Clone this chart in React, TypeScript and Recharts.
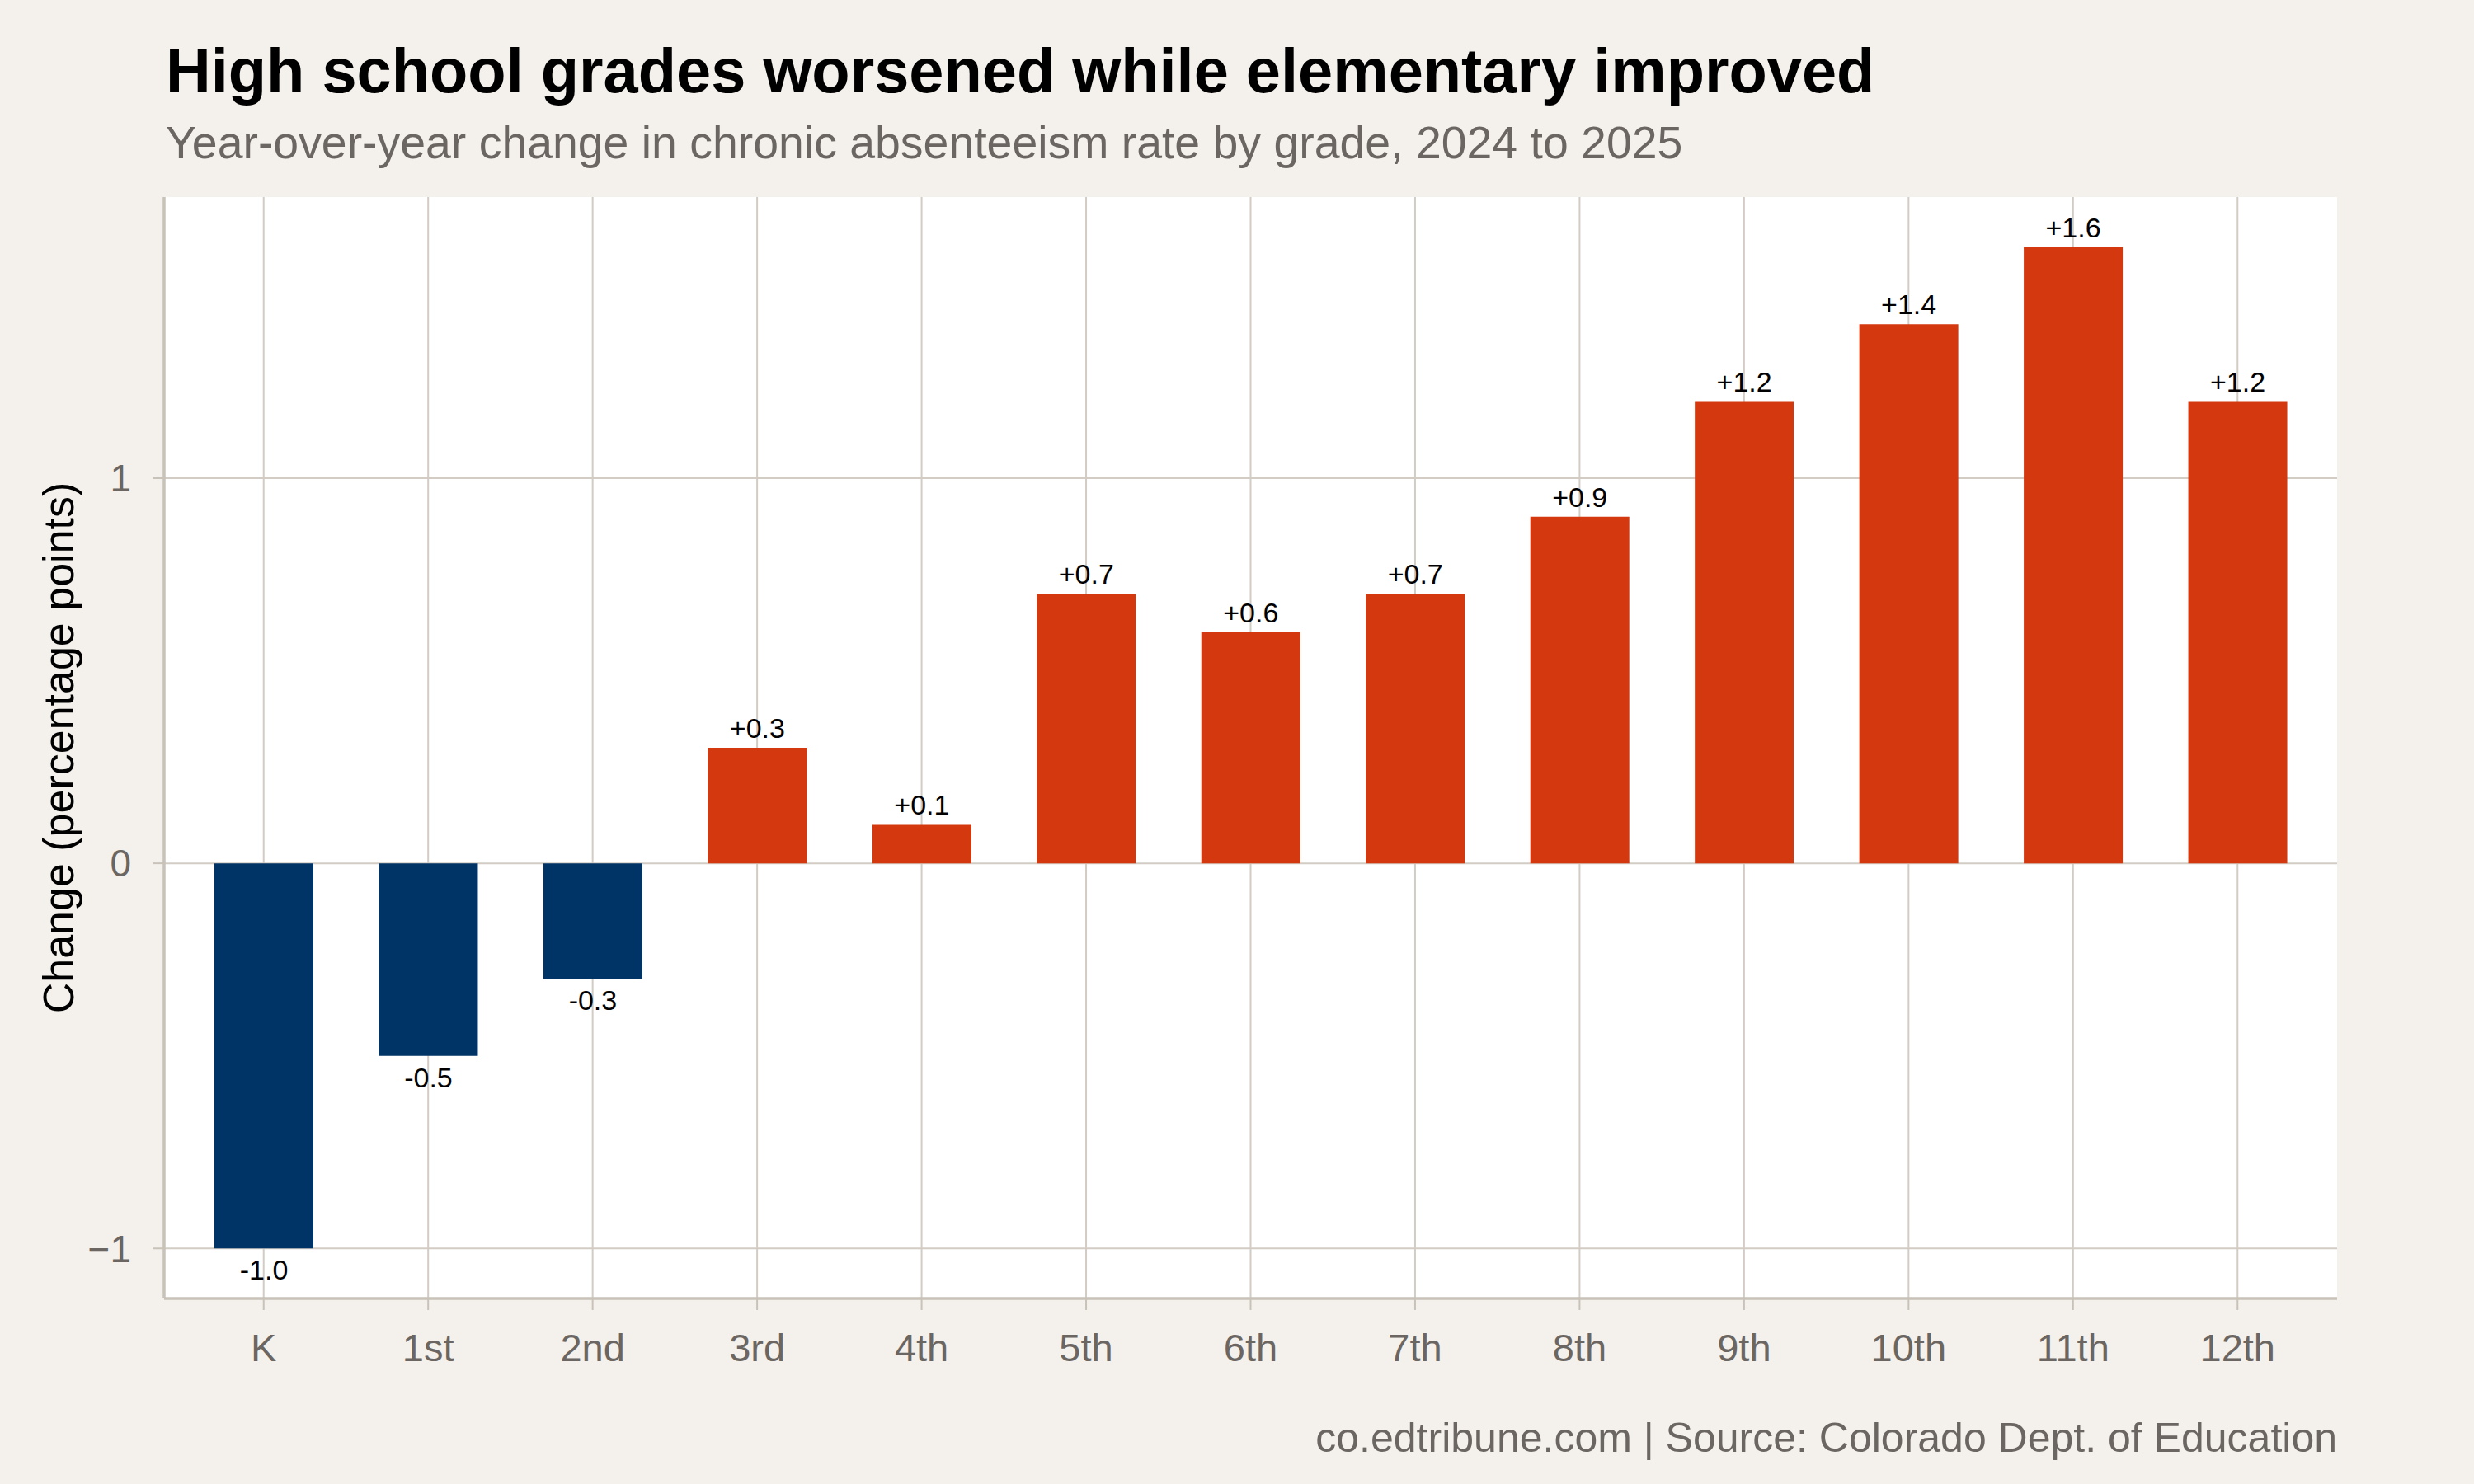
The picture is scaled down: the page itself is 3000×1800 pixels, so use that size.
import React from 'react';
import { BarChart, Bar, XAxis, YAxis, CartesianGrid, Cell, LabelList } from 'recharts';

const GRADES = ['K', '1st', '2nd', '3rd', '4th', '5th', '6th', '7th', '8th', '9th', '10th', '11th', '12th'];
const CHANGES = [-1.0, -0.5, -0.3, 0.3, 0.1, 0.7, 0.6, 0.7, 0.9, 1.2, 1.4, 1.6, 1.2];
const Y_TICKS = [-1, 0, 1];

const TITLE = 'High school grades worsened while elementary improved';
const SUBTITLE = 'Year-over-year change in chronic absenteeism rate by grade, 2024 to 2025';
const Y_LABEL = 'Change (percentage points)';
const CAPTION = 'co.edtribune.com | Source: Colorado Dept. of Education';

const FONT = '"Liberation Sans", Arial, Helvetica, sans-serif';
const BG = '#f4f1ec';
const GRID = '#d2ccc4';
const AXIS = '#c8c2b9';
const MUTED = '#6b6661';
const NAVY = '#003366';
const ORANGE = '#d4380f';

const data = GRADES.map((grade, i) => ({ grade, change: CHANGES[i] }));

const BarLabel = (props: any) => {
  const { x, y, width, height, value } = props;
  const v = Number(value);
  const top = Math.min(y, y + height);
  const bottom = Math.max(y, y + height);
  const text = v > 0 ? `+${v.toFixed(1)}` : v.toFixed(1);
  return (
    <text
      x={x + width / 2}
      y={v >= 0 ? top - 12 : bottom + 38}
      textAnchor="middle"
      fontSize={34}
      fontFamily={FONT}
      fill="#000"
    >
      {text}
    </text>
  );
};

const fmtY = (v: number) => (v < 0 ? `\u2212${Math.abs(v)}` : `${v}`);

export default function App() {
  return (
    <div style={{ position: 'absolute', left: 0, top: 0, width: 3000, height: 1800, background: BG }}>
      <BarChart width={3000} height={1800} data={data} margin={{ top: 239, right: 166, bottom: 125, left: 0 }}>
        <CartesianGrid fill="#ffffff" stroke={GRID} strokeWidth={2} syncWithTicks />
        <XAxis
          dataKey="grade"
          height={100}
          interval={0}
          padding={{ left: 21, right: 21 }}
          axisLine={{ stroke: AXIS, strokeWidth: 3.5 }}
          tickLine={{ stroke: AXIS, strokeWidth: 2 }}
          tickSize={14}
          tickMargin={29}
          tick={{ fill: MUTED, fontSize: 47, fontFamily: FONT }}
        />
        <YAxis
          width={199}
          domain={[-1.13, 1.73]}
          allowDataOverflow
          ticks={Y_TICKS}
          tickFormatter={fmtY}
          axisLine={{ stroke: AXIS, strokeWidth: 3.5 }}
          tickLine={{ stroke: AXIS, strokeWidth: 2 }}
          tickSize={14}
          tickMargin={26}
          tick={{ fill: MUTED, fontSize: 46, fontFamily: FONT }}
        />
        <Bar dataKey="change" barSize={120} isAnimationActive={false}>
          {data.map((d, i) => (
            <Cell key={`cell-${i}`} fill={d.change < 0 ? NAVY : ORANGE} />
          ))}
          <LabelList dataKey="change" content={BarLabel} />
        </Bar>
      </BarChart>

      {/* titles, axis title and caption */}
      <svg width={3000} height={1800} style={{ position: 'absolute', left: 0, top: 0, pointerEvents: 'none' }}>
        <text x={201} y={112} fontSize={75.8} fontWeight="bold" fontFamily={FONT} fill="#000">
          {TITLE}
        </text>
        <text x={201} y={192} fontSize={55.4} fontFamily={FONT} fill={MUTED}>
          {SUBTITLE}
        </text>
        <text x={89} y={907} fontSize={52} fontFamily={FONT} fill="#000" textAnchor="middle" transform="rotate(-90 89 907)">
          {Y_LABEL}
        </text>
        <text x={2834} y={1761} fontSize={50} fontFamily={FONT} fill={MUTED} textAnchor="end">
          {CAPTION}
        </text>
      </svg>
    </div>
  );
}
